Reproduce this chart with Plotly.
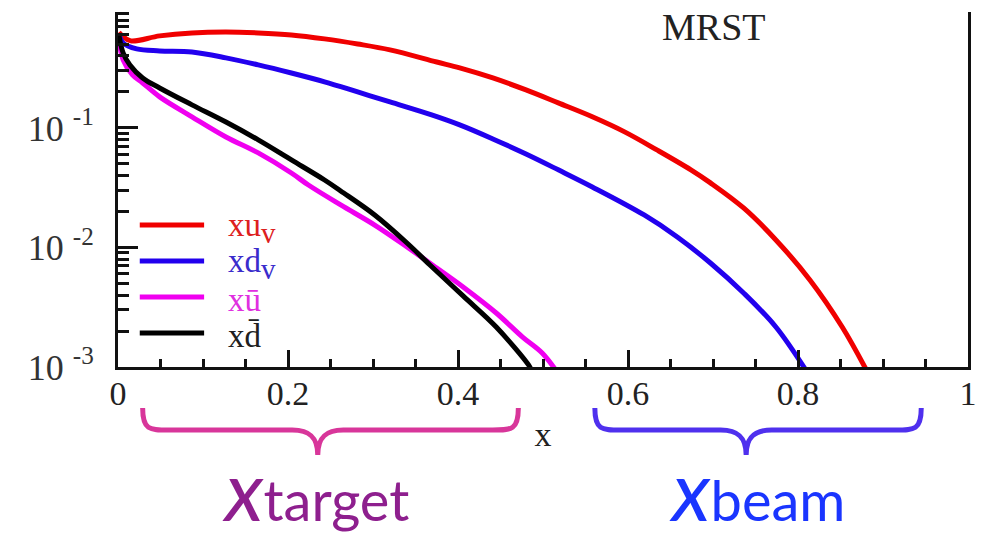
import plotly.graph_objects as go

x_uv = [0.001, 0.005, 0.015, 0.049, 0.087, 0.127, 0.165, 0.204, 0.243, 0.282, 0.320,
        0.375, 0.402, 0.441, 0.480, 0.518, 0.558, 0.596, 0.634, 0.674, 0.697, 0.736,
        0.774, 0.814, 0.852, 0.882]
y_uv = [0.63, 0.589, 0.535, 0.589, 0.624, 0.635, 0.624, 0.600, 0.556, 0.504, 0.450,
        0.356, 0.318, 0.262, 0.208, 0.162, 0.124, 0.0927, 0.0655, 0.0446, 0.0347, 0.0214,
        0.01156, 0.00535, 0.00216, 0.0009]

x_dv = [0.001, 0.006, 0.022, 0.049, 0.087, 0.127, 0.165, 0.204, 0.243, 0.282, 0.320,
        0.369, 0.402, 0.441, 0.480, 0.518, 0.558, 0.619, 0.658, 0.697, 0.736, 0.774, 0.811]
y_dv = [0.62, 0.514, 0.458, 0.441, 0.432, 0.386, 0.337, 0.288, 0.243, 0.200, 0.165,
        0.1285, 0.106, 0.0809, 0.0605, 0.0446, 0.0321, 0.0187, 0.01225, 0.00741, 0.00416,
        0.00216, 0.0009]

x_ubar = [0.001, 0.006, 0.017, 0.029, 0.049, 0.087, 0.127, 0.165, 0.204, 0.224, 0.262,
          0.302, 0.340, 0.375, 0.406, 0.445, 0.476, 0.499, 0.517]
y_ubar = [0.55, 0.371, 0.278, 0.238, 0.182, 0.124, 0.0841, 0.0618, 0.0420, 0.0333, 0.0227,
          0.0154, 0.0101, 0.00673, 0.00467, 0.00283, 0.00178, 0.00131, 0.0009]

x_dbar = [0.001, 0.006, 0.014, 0.029, 0.049, 0.087, 0.127, 0.165, 0.204, 0.243, 0.262,
          0.302, 0.340, 0.367, 0.406, 0.445, 0.483, 0.486]
y_dbar = [0.60, 0.425, 0.337, 0.262, 0.216, 0.156, 0.112, 0.0794, 0.0540, 0.0367, 0.0297,
          0.0187, 0.0109, 0.00714, 0.00393, 0.00216, 0.00104, 0.00095]

series_x = [x_uv, x_dv, x_ubar, x_dbar]
series_y = [y_uv, y_dv, y_ubar, y_dbar]
series_names = ["xu<sub><span style='font-size:29px'>v</span></sub>",
                "xd<sub><span style='font-size:29px'>v</span></sub>", "xū", "xd̄"]
line_colors = ["#f00000", "#2200ee", "#f000f0", "#000000"]
text_colors = ["#dd2020", "#3a2ccc", "#e030e0", "#202020"]

# Axis ticks
x_tickvals = [0, 0.2, 0.4, 0.6, 0.8, 1.0]
x_ticktext = ["0", "0.2", "0.4", "0.6", "0.8", "1"]
y_tickvals = [0.001, 0.01, 0.1]
y_ticktext = ["10 <sup>-3</sup>", "10 <sup>-2</sup>", "10 <sup>-1</sup>"]
y_minor = [m * 10.0 ** e for e in (-3, -2, -1) for m in range(2, 10)]

# Kinematic ranges marked under the x axis: (start, tip, end, brace colour, text colour, label, centre)
ranges = [
    (0.029, 0.235, 0.471, "#d8369a", "#8e1f8e", "target", 0.232),
    (0.561, 0.739, 0.945, "#4f30ee", "#1a35ff", "beam", 0.752),
]

serif = "Liberation Serif, Times New Roman, serif"

fig = go.Figure()
for xs, ys, name, col in zip(series_x, series_y, series_names, line_colors):
    fig.add_trace(go.Scatter(x=xs, y=ys, mode="lines", name=name,
                             line=dict(color=col, width=5, shape="spline", smoothing=1.0),
                             showlegend=False))

# Hand-built legend: sample line plus coloured label
legend_y = [0.400, 0.2986, 0.197, 0.0958]
for ly, name, col, tcol in zip(legend_y, series_names, line_colors, text_colors):
    fig.add_shape(type="line", xref="x", yref="paper", x0=0.0256, x1=0.1013, y0=ly, y1=ly,
                  line=dict(color=col, width=5))
    fig.add_annotation(xref="x", yref="paper", x=0.127, y=ly, xanchor="left", yanchor="middle",
                       text=name, showarrow=False, yshift=-3,
                       font=dict(family=serif, size=33, color=tcol))

fig.add_annotation(xref="x", yref="paper", x=0.70, y=0.958, yanchor="middle", text="MRST",
                   showarrow=False, font=dict(family=serif, size=38, color="#222"))

# Curly braces below the axis
ytop, ymid, ytip = -0.1155, -0.1775, -0.248
for x0, xt, x1, bcol, tcol, word, xc in ranges:
    w = 0.03
    path = (f"M {x0} {ytop} C {x0} {ymid}, {x0 + 0.008} {ymid}, {x0 + w} {ymid} "
            f"L {xt - w} {ymid} C {xt - 0.01} {ymid}, {xt} {ymid - 0.02}, {xt} {ytip} "
            f"C {xt} {ymid - 0.02}, {xt + 0.01} {ymid}, {xt + w} {ymid} "
            f"L {x1 - w} {ymid} C {x1 - 0.008} {ymid}, {x1} {ymid}, {x1} {ytop}")
    fig.add_shape(type="path", xref="x", yref="paper", path=path,
                  line=dict(color=bcol, width=5))
    fig.add_annotation(xref="x", yref="paper", x=xc, y=-0.345, xanchor="center",
                       yanchor="middle", showarrow=False,
                       text=(f"<span style='font-size:83px'><i>x</i></span>"
                             f"<span style='font-size:56px'>{word}</span>"),
                       font=dict(family="Lato, sans-serif", size=56, color=tcol))

fig.update_xaxes(range=[0, 1], tickvals=x_tickvals, ticktext=x_ticktext,
                 ticks="inside", ticklen=17, tickwidth=2.5, tickcolor="#111",
                 minor=dict(dtick=0.05, ticks="inside", ticklen=8, tickwidth=2.5, tickcolor="#111"),
                 showline=True, linewidth=3, linecolor="#111", showgrid=False, zeroline=False,
                 tickfont=dict(family=serif, size=34, color="#222"),
                 ticklabelstandoff=-6,
                 title=dict(text="x", font=dict(family=serif, size=34, color="#222"), standoff=12))
fig.update_yaxes(type="log", range=[-3, -0.03], tickvals=y_tickvals, ticktext=y_ticktext,
                 ticks="inside", ticklen=20, tickwidth=2.5, tickcolor="#111",
                 minor=dict(tickvals=y_minor, ticks="inside", ticklen=11, tickwidth=2.5,
                            tickcolor="#111"),
                 showline=True, linewidth=3, linecolor="#111", mirror=True,
                 showgrid=False, zeroline=False, ticklabelstandoff=14,
                 tickfont=dict(family=serif, size=36, color="#333"))

fig.update_layout(width=985, height=538, margin=dict(l=118, r=8, t=12, b=171),
                  plot_bgcolor="white", paper_bgcolor="white", showlegend=False)

fig.write_html("out.html")
